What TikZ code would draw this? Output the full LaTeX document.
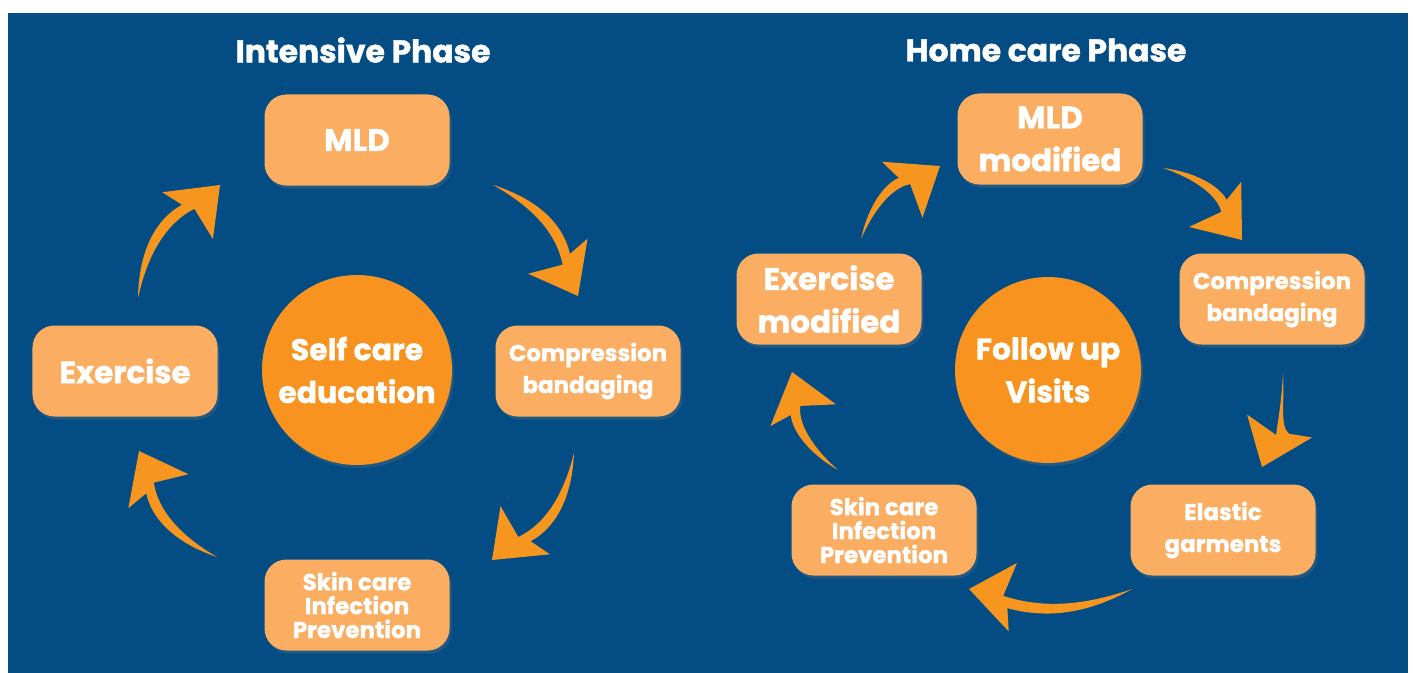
\documentclass[tikz,border=0pt]{standalone}
\usepackage{fontspec}
\setmainfont{Poppins}[BoldFeatures={FakeBold=1.3}]
\usetikzlibrary{shadows}
\definecolor{bg}{HTML}{034D84}
\definecolor{boxc}{HTML}{FBAE62}
\definecolor{circc}{HTML}{F7931E}
\definecolor{arrc}{HTML}{F7961F}
% curved tapered arrow: tail (x1,y1), tip (x2,y2), bend
\newcommand\cArrow[5]{%
  \pgfmathsetmacro\ak{137/veclen(#3-#1,#4-#2)}%
  \begin{scope}[shift={(#1,#2)},
      x={({(#3-#1)*1bp},{(#2-#4)*1bp})},
      y={({(#4-#2)*1bp},{(#3-#1)*1bp})}]
    \fill[arrc] (0,0) .. controls (0.3,{0.21*#5}) and (0.55,{0.22*#5}) ..
      ({1-0.28*\ak},{0.14*\ak}) -- ({1-0.29*\ak},{0.31*\ak}) -- (1,0)
      -- ({1-0.35*\ak},{-0.19*\ak}) -- ({1-0.25*\ak},{0.05*\ak})
      .. controls (0.55,{0.15*#5}) and (0.3,{0.13*#5}) .. (0,0) -- cycle;
  \end{scope}}
\begin{document}
\begin{tikzpicture}[x=1bp,y=-1bp,
  box/.style={rectangle, rounded corners=22bp, fill=boxc, minimum width=185bp,
    minimum height=91bp, inner sep=0pt, text=white, align=center,
    drop shadow={opacity=0.25, shadow xshift=2bp, shadow yshift=-3bp}},
  hub/.style={circle, fill=circc, minimum size=190bp, inner sep=0pt,
    text=white, align=center, font=\bfseries\fontsize{30}{43}\selectfont,
    drop shadow={opacity=0.25, shadow xshift=2bp, shadow yshift=-3bp}},
  big/.style={font=\bfseries\fontsize{31}{43}\selectfont},
  small/.style={font=\bfseries\fontsize{23}{32}\selectfont},
  tiny/.style={font=\bfseries\fontsize{23}{24}\selectfont},
  ttl/.style={text=white, font=\bfseries\fontsize{31.5}{36}\selectfont}]
\useasboundingbox (0,0) rectangle (1413,673);
\fill[white] (0,0) rectangle (1413,673);
\fill[bg] (8,13) rectangle (1408,673);
% titles
\node[ttl] (tl) at (363,50) {Intensive Phase};
\node[ttl] (tr) at (1046,50) {Home care Phase};
% left cycle
\node[box,big] (mldL) at (357,140) {MLD};
\node[box,small] (compL) at (588,371) {Compression\\bandaging};
\node[box,tiny] (skinL) at (357,605) {Skin care\\Infection\\Prevention};
\node[box,big] (exL) at (125,371) {Exercise};
\node[hub] (hubL) at (357,370) {Self care\\education};
% right cycle
\node[box,big] (mldR) at (1050,139) {MLD\\modified};
\node[box,small] (compR) at (1272,299) {Compression\\bandaging};
\node[box,small] (elR) at (1223,530) {Elastic\\garments};
\node[box,tiny] (skinR) at (884,530) {Skin care\\Infection\\Prevention};
\node[box,big] (exR) at (829,299) {Exercise\\modified};
\node[hub, minimum size=186bp] (hubR) at (1048,370) {Follow up\\Visits};
% arrows left
\cArrow{493}{185}{578}{296}{1}
\cArrow{574}{453}{492}{560}{1}
\cArrow{217}{557}{139}{451}{1}
\cArrow{138}{298}{220}{185}{1}
% arrows right
\cArrow{861}{239}{940}{166}{1}
\cArrow{1163}{168}{1242}{240}{1}
\cArrow{1283}{373}{1262}{467}{0.4}
\cArrow{1132}{589}{969}{589}{0.8}
\cArrow{838}{470}{792}{372}{1}
\end{tikzpicture}
\end{document}
